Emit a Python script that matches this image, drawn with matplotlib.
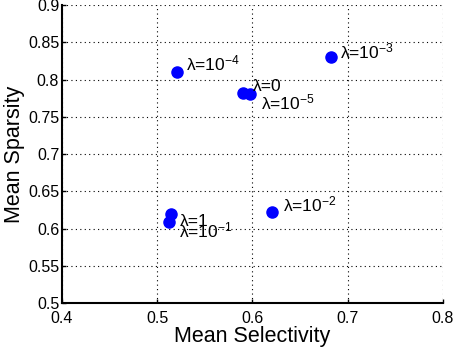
import matplotlib
matplotlib.use("Agg")
import matplotlib.pyplot as plt

# regularisation strengths and the resulting mean selectivity / sparsity
lambdas = ["0", "10^{-5}", "10^{-4}", "10^{-3}", "10^{-2}", "10^{-1}", "1"]
selectivity = [0.590, 0.597, 0.521, 0.682, 0.621, 0.512, 0.514]
sparsity = [0.7815, 0.7805, 0.8105, 0.8306, 0.6226, 0.609, 0.620]

xticks = [0.4, 0.5, 0.6, 0.7, 0.8]
yticks = [0.5, 0.55, 0.6, 0.65, 0.7, 0.75, 0.8, 0.85, 0.9]

# label placement (pixels from the marker)
label_offsets = {
    "0": (10, 7),
    "10^{-5}": (11, -8),
    "10^{-4}": (9, 8),
    "10^{-3}": (9, 5),
    "10^{-2}": (11, 7),
    "10^{-1}": (10, -9),
    "1": (9, -8),
}

plt.rcParams["font.family"] = ["Liberation Sans", "DejaVu Sans"]
plt.rcParams["mathtext.fontset"] = "custom"
plt.rcParams["mathtext.rm"] = "Liberation Sans"
plt.rcParams["mathtext.it"] = "Liberation Sans:italic"
plt.rcParams["mathtext.default"] = "rm"

fig = plt.figure(figsize=(4.54, 3.48), dpi=100)
ax = fig.add_axes([0.1366, 0.1293, 0.839, 0.856])

ax.plot(selectivity, sparsity, "o", color=(0, 0, 1), markersize=8, zorder=3,
        clip_on=False)

for lam, x, y in zip(lambdas, selectivity, sparsity):
    dx, dy = label_offsets[lam]
    if "^" in lam:
        txt = "λ=" + lam.split("^")[0] + "$^{" + lam.split("^")[1][1:-1] + "}$"
    else:
        txt = "λ=" + lam
    ax.annotate(txt, (x, y), xytext=(dx, dy), textcoords="offset pixels",
                ha="left", va="center", fontsize=12.5)

ax.set_xlim(0.4, 0.8)
ax.set_ylim(0.5, 0.9)
ax.set_xticks(xticks)
ax.set_yticks(yticks)
ax.set_xticklabels([f"{t:g}" for t in xticks])
ax.set_yticklabels([f"{t:g}" for t in yticks])
ax.tick_params(direction="in", length=3, width=1, labelsize=11.5, pad=2)
ax.tick_params(axis="x", pad=6)

ax.grid(True, linestyle=(0, (1, 3)), color="black", linewidth=0.8)
for side in ["top", "right"]:
    ax.spines[side].set_visible(False)
for side in ["left", "bottom"]:
    ax.spines[side].set_linewidth(1.5)

ax.set_xlabel("Mean Selectivity", fontsize=15.5, labelpad=0)
ax.set_ylabel("Mean Sparsity", fontsize=15.5, labelpad=2)

fig.savefig("out.png", dpi=100)
